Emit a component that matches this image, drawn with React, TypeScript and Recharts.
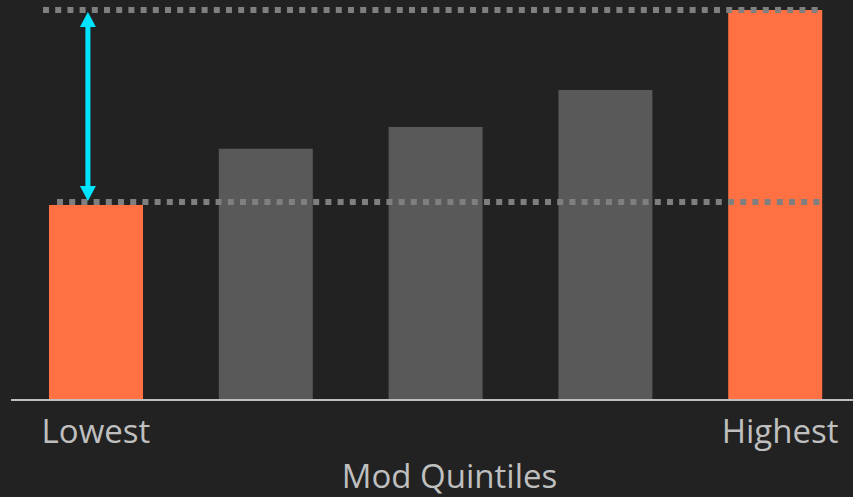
import React from 'react';
import { BarChart, Bar, Cell, XAxis, YAxis, ReferenceLine, Label } from 'recharts';

const CATEGORIES = ['Lowest', 'Q2', 'Q3', 'Q4', 'Highest'];
const VALUES = [50, 64.4, 70, 79.5, 100];
const TICK_LABELS = ['Lowest', '', '', '', 'Highest'];
const TICK_SHIFT = [0, 0, 0, 0, 5];
const HIGHLIGHT = [true, false, false, false, true];
const REF_HIGH = 100;
const REF_LOW = 50.8;

const data = CATEGORIES.map((name, i) => ({ name, value: VALUES[i] }));

const BG = '#222222';
const ORANGE = '#FF7043';
const GREY_BAR = '#595959';
const DOTS = '#7F7F7F';
const CYAN = '#00E5FF';
const TEXT = '#BFBFBF';
const FONT = '"Open Sans", sans-serif';

const renderTick = (props: any) => {
  const { x, y, payload } = props;
  const idx = props.index ?? payload.index;
  return (
    <text x={x + TICK_SHIFT[idx]} y={y} dy={35} textAnchor="middle" fill={TEXT} fontSize={33} fontFamily={FONT}>
      {TICK_LABELS[idx]}
    </text>
  );
};

const renderAxisLabel = (props: any) => {
  const vb = props.viewBox;
  return (
    <text x={vb.x + vb.width / 2 + 14} y={vb.y + 88} textAnchor="middle" fill={TEXT} fontSize={33} fontFamily={FONT}>
      Mod Quintiles
    </text>
  );
};

// dotted guide, trimmed so it only spans the bars
const dottedLine = (startInset: number, endInset: number) => (props: any) => {
  const { x1, x2, y1 } = props;
  return (
    <line
      x1={x1 + startInset}
      x2={x2 - endInset}
      y1={y1}
      y2={y1}
      stroke={DOTS}
      strokeWidth={6}
      strokeDasharray="6 6.2"
    />
  );
};

const arrowShape = (props: any) => {
  const x = props.x1 - 8;
  const top = Math.min(props.y1, props.y2) + 2;
  const bottom = Math.max(props.y1, props.y2) - 1;
  return (
    <g>
      <line x1={x} x2={x} y1={top + 12} y2={bottom - 12} stroke={CYAN} strokeWidth={5} />
      <polygon points={`${x},${top} ${x - 8},${top + 15} ${x + 8},${top + 15}`} fill={CYAN} />
      <polygon points={`${x},${bottom} ${x - 8},${bottom - 15} ${x + 8},${bottom - 15}`} fill={CYAN} />
    </g>
  );
};

export default function App() {
  return (
    <div style={{ width: 853, height: 497, background: BG, overflow: 'hidden' }}>
      <style>{`body{margin:0;background:${BG};overflow:hidden}`}</style>
      <BarChart width={860} height={497} data={data} margin={{ top: 10, right: 0, left: 11, bottom: 0 }}>
        <XAxis
          dataKey="name"
          height={97}
          interval={0}
          tickLine={false}
          axisLine={{ stroke: TEXT, strokeWidth: 2 }}
          tick={renderTick}
        >
          <Label content={renderAxisLabel} />
        </XAxis>
        <YAxis hide domain={[0, 100]} />
        <Bar dataKey="value" barSize={94} isAnimationActive={false}>
          {data.map((d, i) => (
            <Cell key={d.name} fill={HIGHLIGHT[i] ? ORANGE : GREY_BAR} />
          ))}
        </Bar>
        <ReferenceLine y={REF_HIGH} shape={dottedLine(32, 38)} />
        <ReferenceLine y={REF_LOW} shape={dottedLine(46, 38)} />
        <ReferenceLine
          segment={[
            { x: 'Lowest', y: REF_HIGH },
            { x: 'Lowest', y: REF_LOW },
          ]}
          shape={arrowShape}
        />
      </BarChart>
    </div>
  );
}
